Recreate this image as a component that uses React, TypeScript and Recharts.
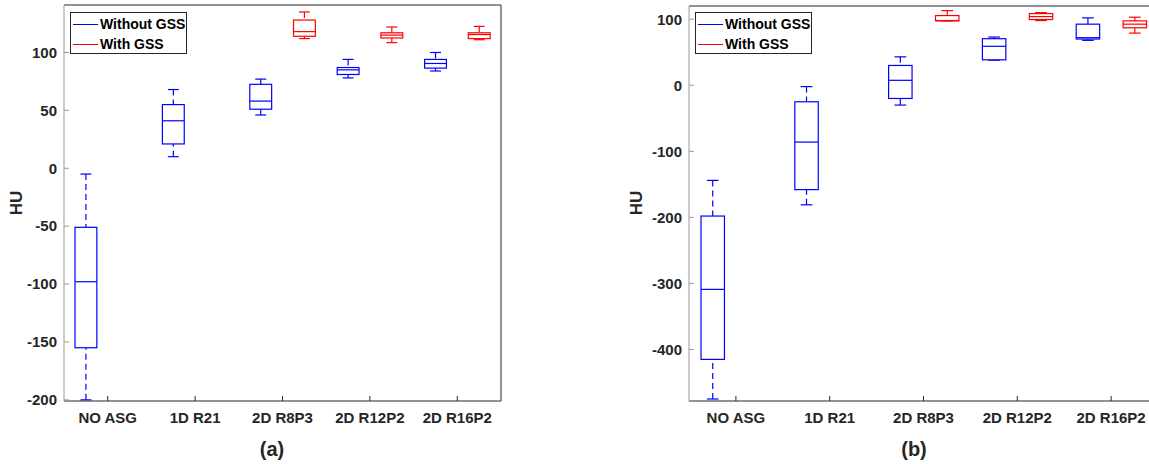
import React from 'react';
import { ComposedChart, Bar, XAxis, YAxis } from 'recharts';

const categories = ['NO ASG', '1D R21', '2D R8P3', '2D R12P2', '2D R16P2'];

// five-number summaries per category: [min, q1, median, q3, max]
const withoutGssA = [
  [-200, -155, -98, -51, -5],
  [10, 21, 41, 55, 68],
  [46, 51, 58, 72.5, 77],
  [78, 81, 85, 87, 94],
  [84, 86.5, 90.5, 94, 100],
];
const withGssA = [
  null,
  null,
  [112, 114, 118, 128, 135],
  [108.5, 112.5, 115, 117, 122],
  [111, 112, 115.5, 117, 122.5],
];

const withoutGssB = [
  [-475, -415, -309, -198, -144],
  [-181, -158, -86, -25, -2],
  [-30, -20, 7.5, 30, 43],
  [38, 38.5, 59, 70.5, 73],
  [68, 70, 72, 92.5, 102],
];
const withGssB = [
  null,
  null,
  [97.5, 97.5, 98, 105.5, 113],
  [98, 99.5, 104, 108.5, 110],
  [79, 87, 92.5, 97.5, 103],
];

const xTicks = [1.5, 3.5, 5.5, 7.5, 9.5];
const yTicksA = [-200, -150, -100, -50, 0, 50, 100];
const yTicksB = [-400, -300, -200, -100, 0, 100];
const yDomainA = [-201, 141];
const yDomainB = [-478, 120];

const BLUE = '#0000ff';
const RED = '#ff0000';
const INK = '#262626';
const FONT = '"Liberation Sans", Arial, sans-serif';

type Stats = number[] | null;

const buildRows = (without: Stats[], withG: Stats[]) => {
  const rows: any[] = [];
  categories.forEach((name, i) => {
    rows.push({ pos: 2 * i + 1, name, color: BLUE, stats: without[i] });
    if (withG[i]) rows.push({ pos: 2 * i + 2, name, color: RED, stats: withG[i] });
  });
  return rows;
};

const rowsA = buildRows(withoutGssA, withGssA);
const rowsB = buildRows(withoutGssB, withGssB);

// draws a matlab-like box from the bar rect (q1..q3) the library gives us
const BoxShape = (props: any) => {
  const { x, y, width, height, payload } = props;
  if (!payload || !payload.stats) return null;
  const [mn, q1, med, q3, mx] = payload.stats;
  const top = Math.min(y, y + height);
  const h = Math.abs(height);
  const k = h / (q3 - q1);
  const py = (v: number) => top + (q3 - v) * k;
  const cx = x + width / 2;
  const cap = width / 4;
  const c = payload.color;
  return (
    <g stroke={c} strokeWidth={1.2} fill="none">
      <line x1={cx} x2={cx} y1={py(mx)} y2={top} strokeDasharray="6 4" />
      <line x1={cx} x2={cx} y1={py(mn)} y2={top + h} strokeDasharray="6 4" />
      <line x1={cx - cap} x2={cx + cap} y1={py(mx)} y2={py(mx)} />
      <line x1={cx - cap} x2={cx + cap} y1={py(mn)} y2={py(mn)} />
      <rect x={x} y={top} width={width} height={h} fill="#fff" />
      <line x1={x} x2={x + width} y1={py(med)} y2={py(med)} />
    </g>
  );
};

const tickStyle = { fontSize: 15, fontWeight: 'bold', fill: INK, fontFamily: FONT };

function BoxChart({ rows, yDomain, yTicks, width, height, margin }: any) {
  const yAxisWidth = 64;
  const plotW = width - margin.left - margin.right - yAxisWidth - 1;
  const barSize = (plotW / 10) * 0.5;
  return (
    <ComposedChart width={width} height={height} data={rows} margin={margin}>
      <XAxis
        xAxisId="b"
        dataKey="pos"
        type="number"
        domain={[0.5, 10.5]}
        allowDataOverflow
        ticks={xTicks}
        interval={0}
        tickFormatter={(v: number) => categories[Math.round((v - 1.5) / 2)]}
        tickSize={-5}
        tickMargin={16}
        height={30}
        stroke={INK}
        tick={tickStyle}
      />
      <XAxis
        xAxisId="t"
        dataKey="pos"
        orientation="top"
        type="number"
        domain={[0.5, 10.5]}
        allowDataOverflow
        ticks={xTicks}
        interval={0}
        tick={false}
        tickSize={-5}
        height={1}
        stroke={INK}
      />
      <YAxis
        yAxisId="l"
        type="number"
        domain={yDomain}
        allowDataOverflow
        ticks={yTicks}
        interval={0}
        tickSize={-5}
        tickMargin={12}
        width={yAxisWidth}
        stroke="#999"
        tick={tickStyle}
      />
      <YAxis
        yAxisId="r"
        orientation="right"
        type="number"
        domain={yDomain}
        allowDataOverflow
        ticks={yTicks}
        interval={0}
        tick={false}
        tickSize={-5}
        width={1}
        stroke={INK}
      />
      <Bar
        xAxisId="b"
        yAxisId="l"
        dataKey={(r: any) => [r.stats[1], r.stats[3]]}
        barSize={barSize}
        shape={BoxShape}
        isAnimationActive={false}
      />
      <Bar
        xAxisId="t"
        yAxisId="r"
        dataKey={() => null}
        isAnimationActive={false}
        legendType="none"
      />
    </ComposedChart>
  );
}

const LegendBox = ({ left }: { left: number }) => (
  <div
    style={{
      position: 'absolute',
      left,
      top: 12,
      width: 117,
      height: 42,
      boxSizing: 'border-box',
      border: `1px solid ${INK}`,
      background: '#fff',
      paddingTop: 2,
      fontFamily: FONT,
      fontWeight: 'bold',
      fontSize: 14,
      color: '#000',
    }}
  >
    {[
      { label: 'Without GSS', color: BLUE },
      { label: 'With GSS', color: RED },
    ].map((item) => (
      <div key={item.label} style={{ display: 'flex', alignItems: 'center', height: 19.5 }}>
        <span style={{ width: 25, marginLeft: 2, borderTop: `1.3px solid ${item.color}` }} />
        <span style={{ marginLeft: 2, lineHeight: '19.5px', whiteSpace: 'nowrap' }}>{item.label}</span>
      </div>
    ))}
  </div>
);

const TextAt = ({ x, y, size, rotate, children }: any) => (
  <div
    style={{
      position: 'absolute',
      left: x,
      top: y,
      transform: `translate(-50%, -50%)${rotate ? ' rotate(-90deg)' : ''}`,
      fontFamily: FONT,
      fontWeight: 'bold',
      fontSize: size,
      color: INK,
      whiteSpace: 'nowrap',
      lineHeight: 1,
    }}
  >
    {children}
  </div>
);

export default function App() {
  return (
    <div
      style={{
        position: 'fixed',
        left: 0,
        top: 0,
        width: 1149,
        height: 464,
        overflow: 'hidden',
        background: '#fff',
      }}
    >
      <div style={{ position: 'absolute', left: 0, top: 0 }}>
        <BoxChart
          rows={rowsA}
          yDomain={yDomainA}
          yTicks={yTicksA}
          width={520}
          height={464}
          margin={{ top: 4, right: 18, left: 0, bottom: 33 }}
        />
      </div>
      <div style={{ position: 'absolute', left: 600, top: 0 }}>
        <BoxChart
          rows={rowsB}
          yDomain={yDomainB}
          yTicks={yTicksB}
          width={600}
          height={464}
          margin={{ top: 5, right: 41, left: 25, bottom: 33 }}
        />
      </div>
      <LegendBox left={70} />
      <LegendBox left={695} />
      <TextAt x={16} y={203} size={17} rotate>HU</TextAt>
      <TextAt x={636} y={203} size={17} rotate>HU</TextAt>
      <TextAt x={272} y={449} size={20}>(a)</TextAt>
      <TextAt x={914} y={449} size={20}>(b)</TextAt>
    </div>
  );
}
